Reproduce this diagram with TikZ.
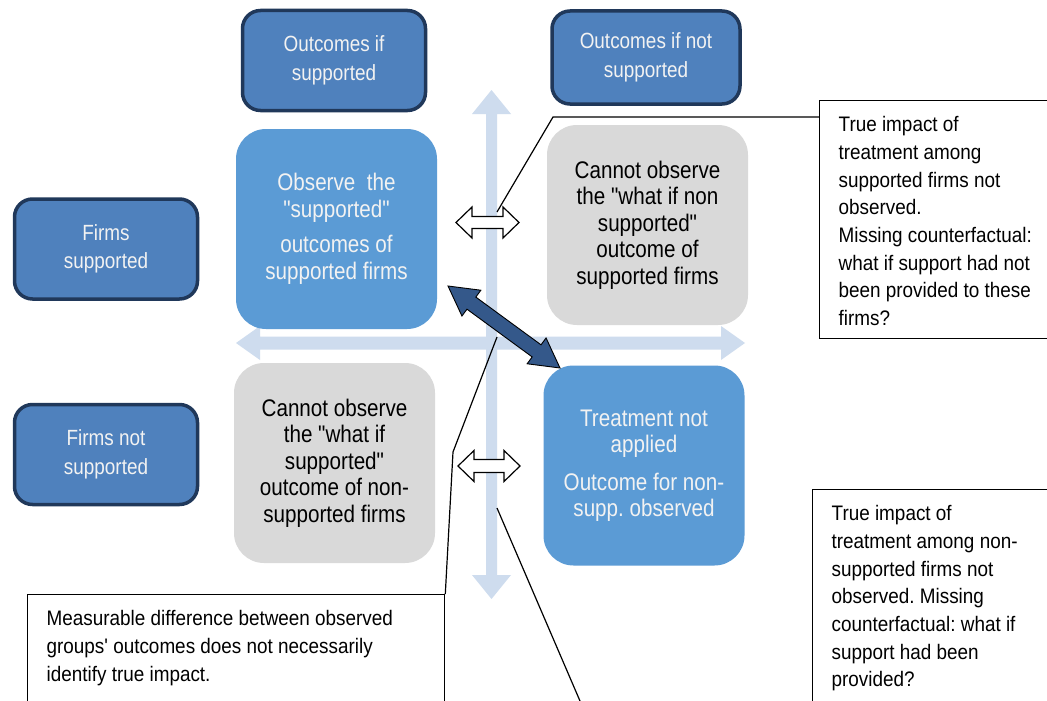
\documentclass[tikz,border=0pt]{standalone}
\usepackage{fontspec}
\setmainfont{Liberation Sans}
\newfontfamily\boxfont[FakeStretch=0.86]{Liberation Sans}
\newfontfamily\notefont[FakeStretch=0.9]{Liberation Sans}
\usetikzlibrary{calc}
\frenchspacing
\definecolor{hdrfill}{RGB}{79,129,189}
\definecolor{hdrline}{RGB}{32,56,90}
\definecolor{obsfill}{RGB}{91,155,213}
\definecolor{greyfill}{RGB}{217,217,217}
\definecolor{axisblue}{RGB}{206,220,238}
\definecolor{darkarrow}{RGB}{52,88,138}
\definecolor{boxtext}{RGB}{242,242,242}
% double-headed block arrow: style, from, to, shaft half width, head half width, head length
\newcommand\blockarrow[6]{%
  \coordinate (#2-h) at ($(#2)!#6!(#3)$);
  \coordinate (#3-h) at ($(#3)!#6!(#2)$);
  \path[#1] (#2) -- ($(#2-h)!#5!90:(#3)$) -- ($(#2-h)!#4!90:(#3)$)
    -- ($(#3-h)!#4!-90:(#2)$) -- ($(#3-h)!#5!-90:(#2)$) -- (#3)
    -- ($(#3-h)!#5!90:(#2)$) -- ($(#3-h)!#4!90:(#2)$)
    -- ($(#2-h)!#4!-90:(#3)$) -- ($(#2-h)!#5!-90:(#3)$) -- cycle;}
\tikzset{
  hdr/.style={draw=hdrline, fill=hdrfill, line width=3.5pt, rounded corners=18pt,
    minimum width=183pt, minimum height=100pt, align=center, text=boxtext,
    font=\boxfont\fontsize{22}{28.5}\selectfont},
  obs/.style={fill=obsfill, rounded corners=30pt, minimum width=201pt, minimum height=200pt,
    align=center, text=boxtext, font=\boxfont\fontsize{24}{26.5}\selectfont},
  unobs/.style={fill=greyfill, rounded corners=30pt, minimum width=201pt, minimum height=200pt,
    align=center, text=black, font=\boxfont\fontsize{24}{26.5}\selectfont},
  note/.style={draw=black, line width=1.3pt, fill=white, anchor=north west,
    inner xsep=19pt, inner ysep=0pt, font=\notefont\fontsize{21}{27.7}\selectfont},
  axis/.style={fill=axisblue},
  hollow/.style={fill=white, draw=black, line width=1.2pt, line join=miter},
  diag/.style={fill=darkarrow, draw=black, line width=0.9pt, line join=miter},
  leader/.style={draw=black, line width=1.2pt}
}
\begin{document}
\begin{tikzpicture}[x=1pt, y=-1pt]
\useasboundingbox (0,0) rectangle (1047,701);
\fill[white] (0,0) rectangle (1047,701);
% axis cross
\coordinate (vt) at (491.5,90);
\coordinate (vb) at (491.5,599);
\coordinate (hl) at (236,343);
\coordinate (hr) at (745,343);
\blockarrow{axis}{vt}{vb}{5.5pt}{19.5pt}{24pt}
\blockarrow{axis}{hl}{hr}{6.5pt}{17pt}{24pt}
% boxes
\node[hdr] (outsup) at (334,60.5) {Outcomes if\\supported};
\node[hdr, minimum width=188pt, minimum height=93pt] (outnot) at (646,57.5) {Outcomes if not\\supported};
\node[hdr] (firmsup) at (106,249) {Firms\\supported};
\node[hdr] (firmnot) at (106,454.5) {Firms not\\supported};
\node[obs] (obsA) at (336.5,229) {Observe~~the\\"supported"\\[9pt]outcomes of\\supported firms};
\node[unobs] (unA) at (647.5,225) {Cannot observe\\the "what if non\\supported"\\outcome of\\supported firms};
\node[unobs] (unB) at (334.5,463) {Cannot observe\\the "what if\\supported"\\outcome of non-\\supported firms};
\node[obs] (obsB) at (644,465.5) {Treatment not\\applied\\[11pt]Outcome for non-\\supp. observed};
% notes
\node[note] (noteA) at (819,100) {\parbox[t][238pt][t]{215pt}{\raggedright\rule{0pt}{31pt}True impact of\\treatment among\\supported firms not\\observed.\\Missing counterfactual:\\what if support had not\\been provided to these\\firms?}};
\node[note] (noteB) at (27,594) {\parbox[t][130pt][t]{379pt}{\raggedright\rule{0pt}{31pt}Measurable difference between observed\\groups' outcomes does not necessarily\\identify true impact.}};
\node[note] (noteC) at (812,489) {\parbox[t][235pt][t]{230pt}{\raggedright\rule{0pt}{31pt}True impact of\\treatment among non-\\supported firms not\\observed. Missing\\counterfactual: what if\\support had been\\provided?}};
% leader lines
\coordinate (a0) at ($(noteA.north west)+(0,17)$);
\coordinate (a1) at (553,117);
\coordinate (a2) at (497,212);
\draw[leader] (a0) -- (a1) -- (a2);
\coordinate (b1) at (453,452);
\coordinate (b2) at (497,337);
\draw[leader] (noteB.north east) -- (b1) -- (b2);
\coordinate (c1) at (497,508);
\coordinate (c2) at (580,701);
\draw[leader] (c1) -- (c2);
% comparison arrows
\coordinate (wl1) at (456,222.5);
\coordinate (wr1) at (519,222.5);
\blockarrow{hollow}{wl1}{wr1}{6pt}{15.5pt}{16pt}
\coordinate (wl2) at (458,466);
\coordinate (wr2) at (520,466);
\blockarrow{hollow}{wl2}{wr2}{6.5pt}{15.5pt}{16pt}
\coordinate (dA) at (448,286);
\coordinate (dB) at (560,368);
\blockarrow{diag}{dA}{dB}{7.5pt}{16pt}{29pt}
\end{tikzpicture}
\end{document}
